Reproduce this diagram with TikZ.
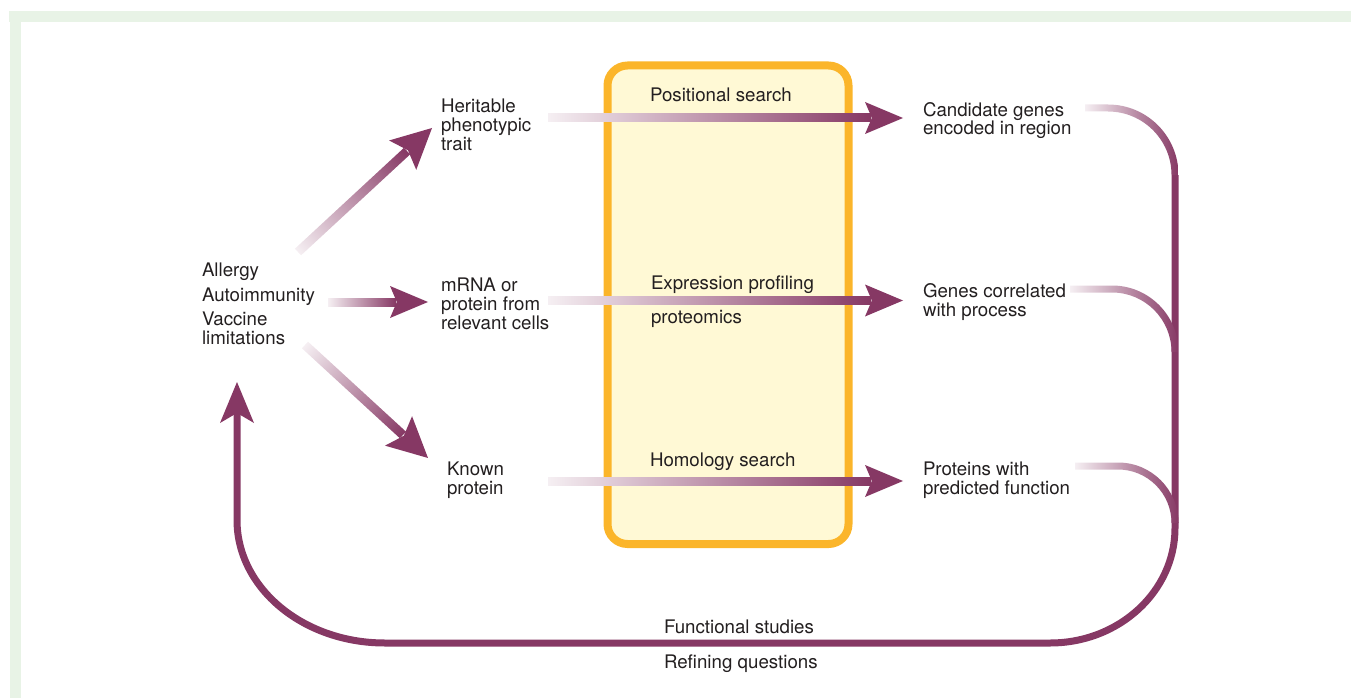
\documentclass[tikz,border=0pt]{standalone}
\usepackage{fontspec}
\setmainfont{TeX Gyre Heros}
\definecolor{purp}{RGB}{134,56,100}
\colorlet{pfade}{purp!8}
\colorlet{pmid}{purp!70}
\definecolor{frameg}{RGB}{232,243,230}
\definecolor{boxfill}{RGB}{255,249,213}
\definecolor{boxline}{RGB}{251,181,42}
\definecolor{txt}{RGB}{35,31,32}
% gradient arrow: x, y, angle, length, shaft width, head length, head half width
\newcommand\garrow[7]{%
  \begin{scope}[transform canvas={shift={(#1,#2)},rotate=#3}]
    \shade[left color=pfade, middle color=pmid, right color=purp] (0,{-#5/2}) rectangle ({#4-#6+6},{#5/2});
    \fill[purp] (#4,0) -- ({#4-#6},#7) -- ({#4-0.82*#6},0) -- ({#4-#6},-#7) -- cycle;
  \end{scope}}
% gradient curve joining the right trunk: start x, y, radius
\newcommand\rcurve[3]{%
  \shade[left color=pfade, middle color=pmid, right color=purp]
    (#1,{#2-3.5}) -- ({1175-#3},{#2-3.5})
    .. controls ({1175-#3+0.552*(#3+3.5)},{#2-3.5}) and (1178.5,{#2+#3-0.552*(#3+3.5)}) .. (1178.5,{#2+#3})
    -- (1171.5,{#2+#3})
    .. controls (1171.5,{#2+#3-0.552*(#3-3.5)}) and ({1175-#3+0.552*(#3-3.5)},{#2+3.5}) .. ({1175-#3},{#2+3.5})
    -- (#1,{#2+3.5}) -- cycle;}
\begin{document}
\begin{tikzpicture}[x=1pt,y=-1pt,
  lbl/.style={anchor=base west, inner sep=0pt, outer sep=0pt, align=left, text=txt,
    font=\fontsize{18.7}{18.6}\selectfont},
  trunk/.style={draw=purp, line width=7pt}]
\useasboundingbox (0,0) rectangle (1351,698);
% frame
\fill[frameg] (9,11) rectangle (1351,22);
\fill[frameg] (10,22) rectangle (21,698);
% central box
\draw[fill=boxfill, draw=boxline, line width=8pt, rounded corners=20pt] (607.5,65.5) rectangle (848.5,544);
% left arrows
\garrow{298}{252}{42.78}{182.6}{9}{40}{20}
\garrow{328}{302}{0}{100}{8}{38}{16}
\garrow{305}{345}{-42.57}{167}{9}{40}{20}
% horizontal arrows
\garrow{548}{118}{0}{355}{8}{38}{16}
\garrow{548}{300.5}{0}{355}{8}{38}{16}
\garrow{548}{481}{0}{355}{8}{38}{16}
% right curves and feedback loop
\coordinate (t1) at (1175,175);
\coordinate (t2) at (1175,528);
\coordinate (b1) at (1050,643);
\coordinate (b2) at (385,643);
\coordinate (l1) at (237,520);
\coordinate (l2) at (237,412);
\draw[trunk] (t1) -- (t2) .. controls (1175,591.5) and (1119,643) .. (b1) -- (b2)
  .. controls (303,643) and (237,588) .. (l1) -- (l2);
\fill[purp] (237,382) -- (220,423) -- (237,413) -- (254,423) -- cycle;
\rcurve{1085}{108}{67}
\rcurve{1070}{289}{63}
\rcurve{1075}{466}{57}
% texts (base = baseline of last line)
\node[lbl] (dis) at (202,344) {Allergy\\[7pt]Autoimmunity\\[5pt]Vaccine\\limitations};
\node[lbl] (her) at (441,150) {Heritable\\phenotypic\\trait};
\node[lbl] (mrna) at (441,329) {mRNA or\\protein from\\relevant cells};
\node[lbl] (known) at (447,494) {Known\\protein};
\node[lbl] (pos) at (650,102) {Positional search};
\node[lbl] (expr) at (651,289) {Expression profiling};
\node[lbl] (prot) at (651,323) {proteomics};
\node[lbl] (hom) at (650,466.5) {Homology search};
\node[lbl] (cand) at (923,135) {Candidate genes\\encoded in region};
\node[lbl] (genes) at (923,316) {Genes correlated\\with process};
\node[lbl] (prots) at (923,494) {Proteins with\\predicted function};
\node[lbl] (func) at (664,633) {Functional studies};
\node[lbl] (refi) at (664,668) {Refining questions};
\end{tikzpicture}
\end{document}
